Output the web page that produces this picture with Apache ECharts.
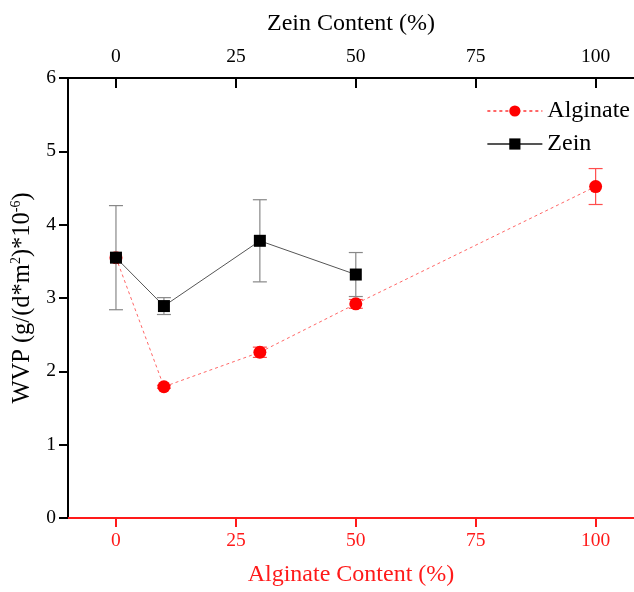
<!DOCTYPE html>
<html>
<head>
<meta charset="utf-8">
<script src="https://cdn.jsdelivr.net/npm/echarts@6/dist/echarts.min.js"></script>
<style>
html,body{margin:0;padding:0;background:#fff;}
#main{width:634px;height:592px;}
</style>
</head>
<body>
<div id="main"></div>
<script>
// 数据
var contentX = [0, 10, 30, 50, 100];
var alginateY = [3.55, 1.79, 2.26, 2.92, 4.52];
var alginateErr = [0, 0.02, 0.07, 0.06, 0.245];
var zeinX = [0, 10, 30, 50];
var zeinY = [3.55, 2.89, 3.78, 3.32];
var zeinErr = [0.71, 0.115, 0.56, 0.30];
var xTicks = [0, 25, 50, 75, 100];
var yTicks = [0, 1, 2, 3, 4, 5, 6];

var font = 'Liberation Serif';

function pairs(xs, ys) {
	return xs.map(function (x, i) { return [x, ys[i]]; });
}
function errData(xs, ys, es) {
	return xs.map(function (x, i) { return [x, ys[i] - es[i], ys[i] + es[i]]; });
}

// 误差棒
function errorBar(color) {
	return function (params, api) {
		var lo = api.coord([api.value(0), api.value(1)]);
		var hi = api.coord([api.value(0), api.value(2)]);
		if (Math.abs(hi[1] - lo[1]) < 1) return;
		var w = 7;
		var st = { stroke: color, lineWidth: 1.2 };
		return {
			type: 'group',
			children: [
				{ type: 'line', shape: { x1: lo[0], y1: lo[1], x2: hi[0], y2: hi[1] }, style: st },
				{ type: 'line', shape: { x1: lo[0] - w, y1: lo[1], x2: lo[0] + w, y2: lo[1] }, style: st },
				{ type: 'line', shape: { x1: hi[0] - w, y1: hi[1], x2: hi[0] + w, y2: hi[1] }, style: st }
			]
		};
	};
}

var myChart = echarts.init(document.getElementById('main'));

var option = {
	animation: false,
	grid: { left: 68, top: 78, right: 0, bottom: 69 },
	legend: {
		right: 4,
		top: 99,
		padding: 0,
		orient: 'vertical',
		itemWidth: 55,
		itemHeight: 14,
		itemGap: 9,
		textStyle: { fontFamily: font, fontSize: 24, color: '#000' },
		data: ['Alginate', 'Zein']
	},
	xAxis: [
		{
			type: 'value',
			position: 'bottom',
			min: -10,
			max: 108,
			interval: 25,
			name: 'Alginate Content (%)',
			nameLocation: 'middle',
			nameGap: 45,
			nameTextStyle: { fontFamily: font, fontSize: 24, color: '#ff1a1a' },
			axisLine: { onZero: false, lineStyle: { color: '#ff1a1a', width: 2 } },
			axisTick: { show: true, inside: false, length: 9, lineStyle: { color: '#ff1a1a', width: 2 },
				customValues: xTicks },
			axisLabel: { fontFamily: font, fontSize: 19.5, color: '#ff1a1a', margin: 13,
				customValues: xTicks },
			splitLine: { show: false }
		},
		{
			type: 'value',
			position: 'top',
			min: -10,
			max: 108,
			interval: 25,
			name: 'Zein Content (%)',
			nameLocation: 'middle',
			nameGap: 42,
			nameTextStyle: { fontFamily: font, fontSize: 24, color: '#000' },
			axisLine: { onZero: false, lineStyle: { color: '#000', width: 2 } },
			axisTick: { show: true, inside: true, length: 10, lineStyle: { color: '#000', width: 2 },
				customValues: xTicks },
			axisLabel: { fontFamily: font, fontSize: 19.5, color: '#000', margin: 11,
				customValues: xTicks },
			splitLine: { show: false }
		}
	],
	yAxis: {
		type: 'value',
		min: 0,
		max: 6,
		interval: 1,
		name: '{a|WVP (g/(d*m}{s|2}{a|)*10}{s|-6}{a|)}',
		nameLocation: 'middle',
		nameGap: 30,
		nameRotate: 90,
		nameTextStyle: {
			rich: {
				a: { fontFamily: font, fontSize: 24.5, color: '#000', lineHeight: 28 },
				s: { fontFamily: font, fontSize: 14, color: '#000', lineHeight: 28, verticalAlign: 'top', padding: [0, 0, 12, 0] }
			}
		},
		axisLine: { show: true, onZero: false, lineStyle: { color: '#000', width: 2 } },
		axisTick: { show: true, inside: false, length: 9, lineStyle: { color: '#000', width: 2 } },
		axisLabel: { fontFamily: font, fontSize: 19.5, color: '#000', margin: 12,
			customValues: yTicks },
		splitLine: { show: false }
	},
	series: [
		{
			name: 'Alginate',
			type: 'line',
			data: pairs(contentX, alginateY),
			symbol: 'circle',
			symbolSize: 13,
			itemStyle: { color: '#ff0000' },
			lineStyle: { color: '#ff6666', width: 1, type: [3, 3] },
			z: 3
		},
		{
			type: 'custom',
			data: errData(contentX, alginateY, alginateErr),
			renderItem: errorBar('#ff4d4d'),
			z: 2
		},
		{
			name: 'Zein',
			type: 'line',
			data: pairs(zeinX, zeinY),
			symbol: 'rect',
			symbolSize: 12,
			itemStyle: { color: '#000' },
			lineStyle: { color: '#555', width: 1 },
			z: 5
		},
		{
			type: 'custom',
			data: errData(zeinX, zeinY, zeinErr),
			renderItem: errorBar('#888'),
			z: 4
		}
	]
};

myChart.setOption(option);
</script>
</body>
</html>
